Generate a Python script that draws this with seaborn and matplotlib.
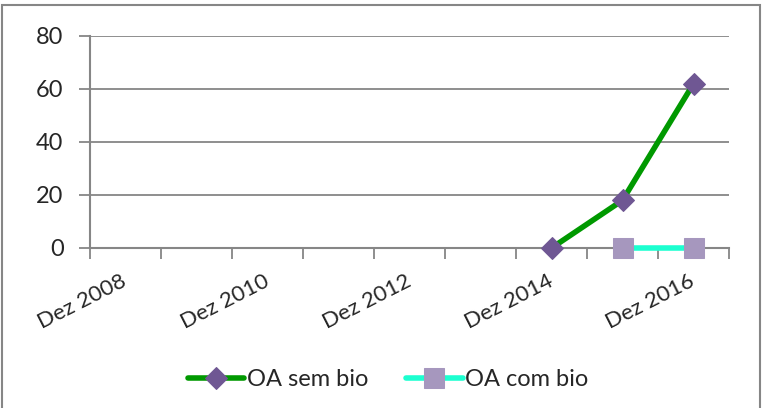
import numpy as np
import pandas as pd
import matplotlib
matplotlib.use('Agg')
import matplotlib.pyplot as plt
import seaborn as sns
from matplotlib.patches import Rectangle

# categories on the x axis (one per December)
periods = ['Dez 2008', 'Dez 2009', 'Dez 2010', 'Dez 2011', 'Dez 2012',
           'Dez 2013', 'Dez 2014', 'Dez 2015', 'Dez 2016']
# series values (missing = no point)
oa_sem_bio = [np.nan, np.nan, np.nan, np.nan, np.nan, np.nan, 0, 18, 62]
oa_com_bio = [np.nan, np.nan, np.nan, np.nan, np.nan, np.nan, np.nan, 0, 0]
y_ticks = [0, 20, 40, 60, 80]

sns.set_style('white')
plt.rcParams['font.family'] = ['Lato', 'DejaVu Sans']

df = pd.DataFrame({'pos': range(len(periods)), 'periodo': periods,
                   'OA sem bio': oa_sem_bio, 'OA com bio': oa_com_bio})

fig = plt.figure(figsize=(7.63, 4.08), dpi=100)
ax = fig.add_axes([90 / 763, 1 - 248 / 408, (729 - 90) / 763, (248 - 36) / 408])

grid_col = '#868686'
for yv in y_ticks[1:]:
    ax.axhline(yv, color=grid_col, lw=1.3, zorder=0)

sns.lineplot(data=df, x='pos', y='OA sem bio', ax=ax, color='#009900', lw=4,
             marker='D', markersize=11, markerfacecolor='#6F5793',
             markeredgecolor='#6F5793', label='OA sem bio', zorder=4, clip_on=False)
sns.lineplot(data=df, x='pos', y='OA com bio', ax=ax, color='#1CFFD0', lw=4,
             marker='s', markersize=14, markerfacecolor='#A697BE',
             markeredgecolor='#A697BE', label='OA com bio', zorder=3, clip_on=False)

ax.set_xlim(-0.5, len(periods) - 0.5)
ax.set_ylim(0, 80)
ax.set_yticks(y_ticks)
ax.set_xlabel('')
ax.set_ylabel('')

# category labels every other period, ticks on the boundaries
ax.set_xticks(range(0, len(periods), 2))
ax.set_xticklabels(periods[::2], rotation=27, ha='right', va='center',
                   rotation_mode='anchor', fontsize=16)
ax.set_xticks(np.arange(-0.5, len(periods), 1), minor=True)
ax.tick_params(axis='x', which='major', length=0, pad=23)
ax.tick_params(axis='x', which='minor', length=8, width=1.3, color=grid_col,
               direction='out', bottom=True)
ax.tick_params(axis='y', length=8, width=1.3, color=grid_col, labelsize=17,
               direction='out', left=True, pad=11)

for side in ['top', 'right']:
    ax.spines[side].set_visible(False)
for side in ['left', 'bottom']:
    ax.spines[side].set_color(grid_col)
    ax.spines[side].set_linewidth(1.5)
    ax.spines[side].set_zorder(1)

leg = ax.legend(loc='center', bbox_to_anchor=(298 / 639, -0.62), ncol=2,
                frameon=False, fontsize=17, handlelength=2.4, columnspacing=1.6,
                handletextpad=0.1)

# outer chart border
fig.patches.append(Rectangle((2 / 763, -0.02), 758 / 763, 1 - 5 / 408 + 0.02,
                             transform=fig.transFigure, fill=False,
                             edgecolor=grid_col, lw=1.5))

fig.savefig('out.png', dpi=100)
